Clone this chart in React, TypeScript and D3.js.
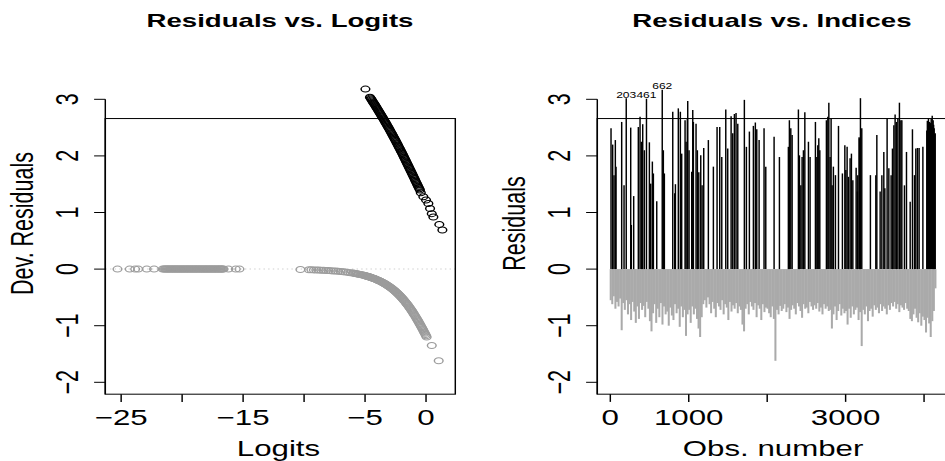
import React from "react";
import * as d3 from "d3";

// ---------------- data ----------------
const titles = ["Residuals vs. Logits", "Residuals vs. Indices"];
const yLabels = ["Dev. Residuals", "Residuals"];
const xLabels = ["Logits", "Obs. number"];
const yTicks = [-2, -1, 0, 1, 2, 3];
const logitTicks = [-25, -20, -15, -10, -5, 0];
const logitTickLabels = ["−25", "", "−15", "", "−5", "0"];
const obsTicks = [0, 1000, 2000, 3000, 4000];
const obsTickLabels = ["0", "1000", "", "3000", ""];
const yLimits = [-2.21, 2.66];
const logitLimits = [-26.3, 2.4];
const obsLimits = [-166, 4343];

// left panel: deviance residuals of y = 1 (black) vs logit
const posPoints: [number, number][] = [
  [-4.97, 3.18], [-4.6, 3.038], [-4.5, 3.004], [-4.4, 2.97], [-4.3, 2.936], [-4.2, 2.903],
  [-4.1, 2.869], [-4.0, 2.835], [-3.9, 2.799], [-3.8, 2.764], [-3.7, 2.728], [-3.6, 2.693],
  [-3.5, 2.657], [-3.4, 2.619], [-3.3, 2.582], [-3.2, 2.544], [-3.1, 2.507], [-3.0, 2.469],
  [-2.9, 2.429], [-2.8, 2.39], [-2.7, 2.35], [-2.6, 2.311], [-2.5, 2.271], [-2.4, 2.229],
  [-2.3, 2.188], [-2.2, 2.146], [-2.1, 2.105], [-2.0, 2.063], [-1.9, 2.019], [-1.8, 1.976],
  [-1.7, 1.932], [-1.6, 1.889], [-1.5, 1.845], [-1.4, 1.8], [-1.3, 1.755], [-1.2, 1.711],
  [-1.1, 1.666], [-1.0, 1.621], [-0.9, 1.576], [-0.8, 1.531], [-0.7, 1.486], [-0.6, 1.441],
  [-0.5, 1.396], [-0.43, 1.35], [-0.22, 1.28], [0.0, 1.22], [0.19, 1.16], [0.33, 1.07],
  [0.47, 0.98], [0.6, 0.92], [1.09, 0.79], [1.34, 0.69],
  [-4.55, 3.021], [-4.45, 2.987], [-4.35, 2.953], [-4.25, 2.92], [-4.15, 2.886], [-4.05, 2.852],
  [-3.95, 2.817], [-3.85, 2.782], [-3.75, 2.746], [-3.65, 2.711], [-3.55, 2.675], [-3.45, 2.638],
  [-3.35, 2.6], [-3.25, 2.563], [-3.15, 2.526], [-3.05, 2.488], [-2.95, 2.449], [-2.85, 2.41],
  [-2.75, 2.37], [-2.65, 2.331], [-2.55, 2.291], [-2.45, 2.25], [-2.35, 2.209], [-2.25, 2.167],
  [-2.15, 2.126], [-2.05, 2.084], [-1.95, 2.041], [-1.85, 1.998], [-1.75, 1.954], [-1.65, 1.911],
  [-1.55, 1.867], [-1.45, 1.823], [-1.35, 1.778], [-1.25, 1.733], [-1.15, 1.689], [-1.05, 1.644],
  [-0.95, 1.599], [-0.85, 1.554], [-0.75, 1.509], [-0.65, 1.464], [-0.55, 1.419],
];

// left panel: deviance residuals of y = 0 (grey) vs logit
const negPoints: [number, number][] = [
  [-25.3, 0], [-24.3, 0], [-23.85, 0], [-23.6, 0], [-22.9, 0], [-22.3, 0], [-21.6, 0],
  [-21.4, 0], [-21.25, 0], [-21.1, 0], [-20.95, 0], [-20.8, 0], [-20.65, 0], [-20.5, 0],
  [-20.35, 0], [-20.2, 0], [-20.05, 0], [-19.9, 0], [-19.75, 0], [-19.6, 0], [-19.45, 0],
  [-19.3, 0], [-19.15, 0], [-19.0, 0], [-18.85, 0], [-18.7, 0], [-18.55, 0], [-18.4, 0],
  [-18.25, 0], [-18.1, 0], [-17.95, 0], [-17.8, 0], [-17.65, 0], [-17.5, 0], [-17.35, 0],
  [-17.2, 0], [-17.05, 0], [-16.9, 0], [-16.75, 0], [-16.6, 0], [-16.2, 0], [-15.6, 0], [-15.3, 0],
  [-21.5, 0], [-21.325, 0], [-21.175, 0], [-21.025, 0], [-20.875, 0], [-20.725, 0], [-20.575, 0],
  [-20.425, 0], [-20.275, 0], [-20.125, 0], [-19.975, 0], [-19.825, 0], [-19.675, 0], [-19.525, 0],
  [-19.375, 0], [-19.225, 0], [-19.075, 0], [-18.925, 0], [-18.775, 0], [-18.625, 0], [-18.475, 0],
  [-18.325, 0], [-18.175, 0], [-18.025, 0], [-17.875, 0], [-17.725, 0], [-17.575, 0], [-17.425, 0],
  [-17.275, 0], [-17.125, 0], [-16.975, 0], [-16.825, 0], [-16.675, 0],
  [-10.3, -0.008], [-9.6, -0.012], [-9.4, -0.013], [-9.2, -0.014], [-9.0, -0.016], [-8.8, -0.017],
  [-8.6, -0.019], [-8.4, -0.021], [-8.2, -0.023], [-8.0, -0.026], [-7.8, -0.029], [-7.6, -0.032],
  [-7.4, -0.035], [-7.2, -0.039], [-7.0, -0.043], [-6.8, -0.047], [-6.6, -0.052], [-6.4, -0.058],
  [-6.2, -0.064], [-6.0, -0.07], [-5.8, -0.078], [-5.6, -0.086], [-5.4, -0.095], [-5.2, -0.105],
  [-5.0, -0.116], [-4.9, -0.122], [-4.8, -0.128], [-4.7, -0.135], [-4.6, -0.141], [-4.5, -0.149],
  [-4.4, -0.156], [-4.3, -0.164], [-4.2, -0.173], [-4.1, -0.181], [-4.0, -0.191], [-3.9, -0.2],
  [-3.8, -0.21], [-3.7, -0.221], [-3.6, -0.232], [-3.5, -0.244], [-3.4, -0.256], [-3.3, -0.269],
  [-3.2, -0.283], [-3.1, -0.297], [-3.0, -0.312], [-2.9, -0.327], [-2.8, -0.344], [-2.7, -0.361],
  [-2.6, -0.379], [-2.5, -0.397], [-2.4, -0.417], [-2.3, -0.437], [-2.2, -0.458], [-2.1, -0.481],
  [-2.0, -0.504], [-1.9, -0.528], [-1.8, -0.553], [-1.7, -0.579], [-1.6, -0.607], [-1.5, -0.635],
  [-1.4, -0.664], [-1.3, -0.694], [-1.2, -0.726], [-1.1, -0.758], [-1.0, -0.792], [-0.9, -0.826],
  [-0.8, -0.862], [-0.7, -0.898], [-0.6, -0.935], [-0.5, -0.974], [-0.4, -1.013], [-0.3, -1.053],
  [-0.2, -1.094], [-0.1, -1.135], [0.0, -1.177], [0.05, -1.199], [0.47, -1.35], [1.04, -1.62],
  [-5.9, -0.074], [-5.7, -0.082], [-5.5, -0.09], [-5.3, -0.1], [-5.1, -0.11], [-4.95, -0.119],
  [-4.85, -0.125], [-4.75, -0.131], [-4.65, -0.138], [-4.55, -0.145], [-4.45, -0.152], [-4.35, -0.16],
  [-4.25, -0.168], [-4.15, -0.177], [-4.05, -0.186], [-3.95, -0.195], [-3.85, -0.205], [-3.75, -0.215],
  [-3.65, -0.226], [-3.55, -0.238], [-3.45, -0.25], [-3.35, -0.262], [-3.25, -0.276], [-3.15, -0.29],
  [-3.05, -0.304], [-2.95, -0.319], [-2.85, -0.335], [-2.75, -0.352], [-2.65, -0.37], [-2.55, -0.388],
  [-2.45, -0.407], [-2.35, -0.427], [-2.25, -0.447], [-2.15, -0.469], [-2.05, -0.492], [-1.95, -0.516],
  [-1.85, -0.54], [-1.75, -0.566], [-1.65, -0.593], [-1.55, -0.621], [-1.45, -0.649], [-1.35, -0.679],
  [-1.25, -0.71], [-1.15, -0.742], [-1.05, -0.775], [-0.95, -0.809], [-0.85, -0.844], [-0.75, -0.88],
  [-0.65, -0.916], [-0.55, -0.955], [-0.45, -0.993], [-0.35, -1.033], [-0.25, -1.073], [-0.15, -1.114],
  [-0.05, -1.156],
];

// right panel: positive residuals [obs number, residual]
const posSpikes: [number, number][] = [
  [9, 2.49], [30, 2.2], [47, 1.66], [64, 2.28], [73, 1.81], [145, 2.6], [175, 1.48], [203, 3.02],
  [260, 2.5], [268, 0.78], [298, 1.29], [357, 2.51], [379, 2.69], [396, 2.25], [413, 2.56],
  [434, 2.1], [461, 3.01], [498, 2.24], [515, 1.51], [536, 1.9], [549, 1.69], [592, 1.2],
  [662, 3.17], [676, 2.1], [689, 1.69], [796, 2.78], [821, 1.34], [830, 1.5], [867, 2.84],
  [893, 2.78], [910, 2.04], [953, 2.63], [966, 2.25], [982, 2.66], [987, 2.97], [1004, 2.1],
  [1038, 1.72], [1051, 2.81], [1059, 2.6], [1093, 2.57], [1110, 2.1], [1128, 1.71], [1153, 2.01],
  [1170, 1.48], [1191, 2.14], [1250, 2.28], [1314, 1.81], [1361, 2.51], [1395, 2.51], [1421, 1.98],
  [1472, 2.82], [1497, 2.13], [1540, 2.7], [1561, 2.4], [1582, 2.74], [1603, 2.76], [1625, 2.57],
  [1709, 2.99], [1735, 2.16], [1773, 2.43], [1824, 2.53], [1849, 2.59], [1867, 2.47], [1897, 2.28],
  [1960, 2.49], [1982, 1.81], [2088, 2.34], [2156, 1.98], [2270, 2.16], [2283, 2.63], [2301, 2.49],
  [2318, 2.37], [2398, 2.82], [2411, 2.01], [2429, 1.48], [2445, 1.98], [2462, 2.1], [2480, 2.77],
  [2526, 2.25], [2547, 1.98], [2615, 2.6], [2633, 1.98], [2645, 2.19], [2658, 2.31], [2671, 2.1],
  [2755, 2.63], [2773, 2.69], [2786, 2.94], [2802, 1.98], [2815, 2.66], [2828, 1.48], [2844, 1.81],
  [2870, 1.66], [2909, 2.53], [2959, 1.69], [2990, 2.19], [3003, 1.75], [3019, 2.16], [3036, 1.63],
  [3057, 1.96], [3074, 2.04], [3092, 1.57], [3134, 1.79], [3150, 1.37], [3155, 1.66], [3172, 2.33],
  [3176, 2.31], [3189, 3.02], [3206, 2.49], [3316, 1.66], [3385, 1.66], [3398, 2.37], [3440, 1.37],
  [3462, 1.66], [3487, 2.07], [3500, 1.43], [3529, 2.66], [3551, 1.78], [3580, 1.66], [3597, 2.13],
  [3615, 2.54], [3631, 2.73], [3648, 2.6], [3666, 2.66], [3686, 2.94], [3704, 2.63], [3717, 2.63],
  [3750, 1.48], [3776, 2.07], [3823, 1.19], [3852, 2.47], [3878, 1.66], [3895, 2.13], [3916, 2.14],
  [3937, 2.14], [3985, 2.16], [4035, 2.45], [4042, 2.62], [4050, 2.55], [4056, 2.66], [4063, 2.5],
  [4070, 2.6], [4077, 2.42], [4084, 2.58], [4091, 2.66], [4098, 2.52], [4104, 2.71], [4110, 2.48],
  [4116, 2.63], [4122, 2.55], [4129, 2.49], [4135, 2.38], [4142, 2.4],
];
const labelledObs = [203, 461, 662];

// right panel: negative residuals, every 20th observation starting at 5
const negSampleStart = 5;
const negSampleStep = 20;
const negSpikes = [
  -0.55, -0.62, -0.48, -0.7, -0.58, -0.66, -0.52, -1.08, -0.6, -0.72,
  -0.55, -0.8, -0.62, -0.9, -0.58, -0.75, -0.95, -0.66, -0.88, -0.6,
  -0.72, -0.65, -0.85, -0.58, -0.7, -0.92, -1.1, -0.78, -0.62, -0.95,
  -0.7, -0.85, -0.6, -0.98, -0.66, -0.8, -0.75, -1.0, -0.68, -0.82,
  -0.9, -0.62, -0.78, -0.7, -1.02, -0.66, -0.85, -0.72, -1.18, -0.8,
  -0.72, -0.95, -0.66, -0.8, -0.7, -0.88, -1.05, -1.2, -0.85, -0.62,
  -0.55, -0.68, -0.5, -0.62, -0.78, -0.58, -0.7, -0.85, -0.6, -0.66,
  -0.72, -0.55, -0.8, -0.62, -0.68, -0.9, -0.58, -0.75, -0.64, -0.7,
  -0.6, -0.78, -0.66, -0.72, -0.98, -1.1, -0.7, -0.62, -0.8, -0.58,
  -0.66, -0.72, -0.6, -0.85, -0.64, -0.7, -0.9, -0.62, -0.76, -0.68,
  -0.7, -0.78, -0.85, -0.66, -0.88, -1.62, -0.72, -0.8, -0.65, -0.74,
  -0.7, -0.62, -0.76, -0.68, -0.88, -0.72, -0.64, -0.7, -0.8, -0.6,
  -0.66, -0.74, -0.86, -0.62, -0.7, -0.68, -0.78, -0.58, -0.66, -0.72,
  -0.64, -0.7, -0.6, -0.75, -0.68, -0.8, -0.62, -0.7, -0.66, -0.74,
  -0.72, -1.05, -0.8, -0.66, -0.9, -0.74, -0.62, -0.82, -0.7, -0.78,
  -0.74, -0.98, -0.7, -0.86, -0.66, -0.8, -0.72, -0.68, -0.9, -0.76,
  -1.36, -0.72, -0.8, -0.66, -0.92, -0.74, -0.7, -0.84, -0.64, -0.72,
  -0.68, -0.78, -0.62, -0.74, -0.66, -0.7, -0.8, -0.64, -0.72, -0.6,
  -0.66, -0.58, -0.7, -0.62, -0.76, -0.64, -0.68, -0.72, -0.6, -0.7,
  -0.74, -0.88, -0.92, -0.8, -0.7, -0.86, -0.94, -0.78, -1.0, -0.84,
  -0.9, -1.12, -0.86, -0.96, -1.2, -0.92, -0.74, -0.34,
];

// ---------------- drawing ----------------
const VB_W = 650; // drawn narrow, stretched horizontally to 945 like the reference
const VB_H = 461;
const FONT = "'Liberation Sans', Arial, Helvetica, sans-serif";
const GREY_LINE = "#aaaaaa";
const GREY_PT = "#9c9c9c";

function fmt(v: number) {
  return v < 0 ? "−" + Math.abs(v) : String(v);
}

export default function App() {
  const y = d3.scaleLinear().domain([-2, 3]).range([382.3, 99.3]);
  const xL = d3.scaleLinear().domain(logitLimits).range([72.43, 313.17]);
  const xR = d3.scaleLinear().domain(obsLimits).range([410.84, 654.1]);
  const tick = 7.7;
  const yBot = y(yLimits[0]);
  const yTop = y(yLimits[1]);

  const yAxis = (ax: number, title: string) => (
    <g>
      <line x1={ax} x2={ax} y1={y(3)} y2={yBot} stroke="#000" />
      {yTicks.map((t) => (
        <g key={t}>
          <line x1={ax - tick} x2={ax} y1={y(t)} y2={y(t)} stroke="#000" />
          <text
            transform={`translate(${ax - 18.6},${y(t)}) rotate(-90)`}
            textAnchor="middle"
            fontSize={21.5}
          >
            {fmt(t)}
          </text>
        </g>
      ))}
      <text
        transform={`translate(${ax - 50},223.5) rotate(-90)`}
        textAnchor="middle"
        fontSize={21.5}
      >
        {title}
      </text>
    </g>
  );

  const posMap = new Map(posSpikes.map((d) => [d[0], d[1]]));

  return (
    <svg
      width={945}
      height={461}
      viewBox={`0 0 ${VB_W} ${VB_H}`}
      preserveAspectRatio="none"
      style={{ position: "absolute", left: 0, top: 0, background: "#fff" }}
      fontFamily={FONT}
    >
      <rect x={0} y={0} width={VB_W} height={VB_H} fill="#fff" />

      {/* ---------- left panel ---------- */}
      <text x={192.6} y={27} textAnchor="middle" fontSize={19} fontWeight="bold">
        {titles[0]}
      </text>
      <line
        x1={xL(logitLimits[0])}
        x2={xL(logitLimits[1])}
        y1={y(0)}
        y2={y(0)}
        stroke="#cfcfcf"
        strokeDasharray="1 2.2"
      />
      {negPoints.map((d, i) => (
        <circle key={"n" + i} cx={xL(d[0])} cy={y(d[1])} r={3.0} fill="none" stroke={GREY_PT} strokeWidth={1.0} />
      ))}
      {posPoints.map((d, i) => (
        <circle key={"p" + i} cx={xL(d[0])} cy={y(d[1])} r={3.0} fill="none" stroke="#000" strokeWidth={1.0} />
      ))}
      <rect
        x={xL(logitLimits[0])}
        y={yTop}
        width={xL(logitLimits[1]) - xL(logitLimits[0])}
        height={yBot - yTop}
        fill="none"
        stroke="#000"
      />
      {yAxis(xL(logitLimits[0]), yLabels[0])}
      {logitTicks.map((t, i) => (
        <g key={t}>
          <line x1={xL(t)} x2={xL(t)} y1={yBot} y2={yBot + tick} stroke="#000" />
          <text x={xL(t)} y={425} textAnchor="middle" fontSize={21.5}>
            {logitTickLabels[i]}
          </text>
        </g>
      ))}
      <text x={xL(-12.1)} y={456} textAnchor="middle" fontSize={21.5}>
        {xLabels[0]}
      </text>

      {/* ---------- right panel ---------- */}
      <text x={531} y={27} textAnchor="middle" fontSize={19} fontWeight="bold">
        {titles[1]}
      </text>
      {negSpikes.map((v, i) => {
        const o = negSampleStart + i * negSampleStep;
        return <line key={"g" + i} x1={xR(o)} x2={xR(o)} y1={y(0)} y2={y(v)} stroke={GREY_LINE} strokeWidth={1.4} />;
      })}
      {posSpikes.map((d, i) => (
        <line key={"b" + i} x1={xR(d[0])} x2={xR(d[0])} y1={y(0)} y2={y(d[1])} stroke="#000" strokeWidth={1.0} />
      ))}
      {labelledObs.map((o) => (
        <text key={o} x={xR(o)} y={y(posMap.get(o) || 0) - 0.5} textAnchor="middle" fontSize={8.3}>
          {o}
        </text>
      ))}
      <rect
        x={xR(obsLimits[0])}
        y={yTop}
        width={xR(obsLimits[1]) - xR(obsLimits[0])}
        height={yBot - yTop}
        fill="none"
        stroke="#000"
      />
      {yAxis(xR(obsLimits[0]), yLabels[1])}
      {obsTicks.map((t, i) => (
        <g key={t}>
          <line x1={xR(t)} x2={xR(t)} y1={yBot} y2={yBot + tick} stroke="#000" />
          <text x={xR(t)} y={425} textAnchor="middle" fontSize={21.5}>
            {obsTickLabels[i]}
          </text>
        </g>
      ))}
      <text x={xR(2075)} y={456} textAnchor="middle" fontSize={21.5}>
        {xLabels[1]}
      </text>
    </svg>
  );
}
